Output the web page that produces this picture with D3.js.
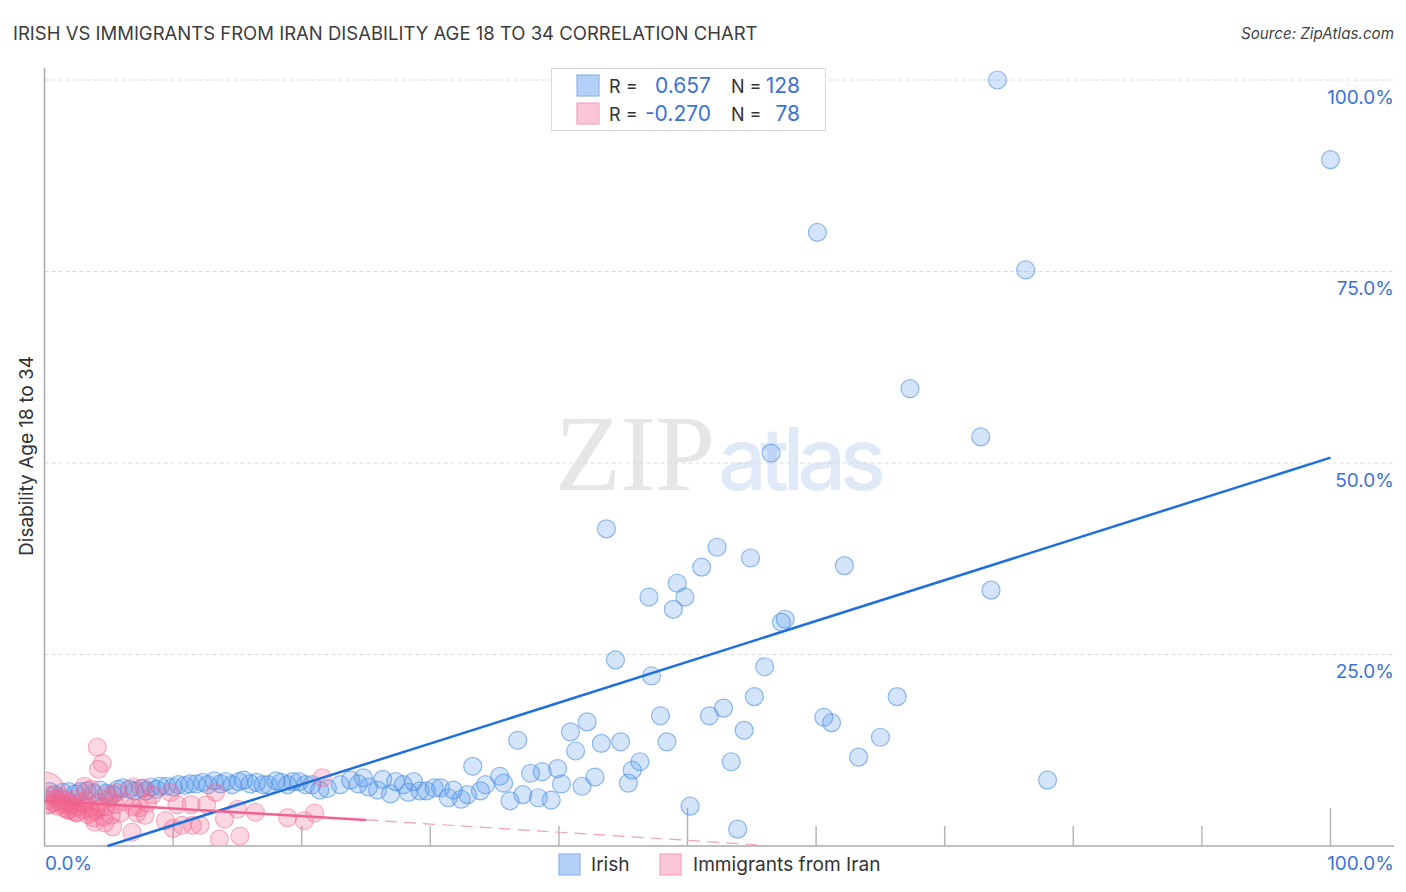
<!DOCTYPE html>
<html>
<head>
<meta charset="utf-8">
<script src="https://cdnjs.cloudflare.com/ajax/libs/d3/7.8.5/d3.min.js"></script>
<style>
body { margin: 0; background: #fff; }
text { font-family: Inter, "Open Sans", sans-serif; }
</style>
</head>
<body>
<script>
// values, in percent
var irishX = [74.1, 100, 60.1, 76.3, 67.3, 72.8, 56.5, 43.7, 52.3, 51.1, 54.9, 62.2, 49.2, 49.8, 47.0, 48.9, 73.6, 57.6, 57.3, 44.4,
    56.0, 47.2, 55.2, 66.3, 52.8, 47.9, 51.7, 60.6, 61.2, 42.2, 40.9, 54.4, 65.0, 36.8, 43.3, 44.8, 48.4, 41.3, 63.3, 53.4,
    46.3, 45.7, 33.3, 39.9, 38.7, 37.8, 42.8, 35.4, 45.4, 78.0, 40.2, 41.8, 35.7, 34.3, 50.2, 53.9, 36.2, 37.2, 38.4, 39.4,
    0.4, 0.8, 1.4, 1.9, 2.4, 2.8, 3.3, 3.8, 4.3, 4.8, 5.3, 5.7, 6.1, 6.6, 7.0, 7.5, 7.9, 8.3, 8.7, 9.0,
    9.5, 10.0, 10.4, 10.9, 11.3, 11.8, 12.3, 12.7, 13.2, 13.7, 14.1, 14.6, 15.1, 15.5, 16.0, 16.5, 17.0, 17.4, 18.0, 18.4,
    18.9, 19.3, 19.8, 20.3, 20.8, 21.4, 22.0, 23.0, 23.8, 24.4, 24.8, 25.2, 25.9, 26.3, 26.9, 27.3, 27.9, 28.3, 28.7, 29.2,
    29.7, 30.3, 30.8, 31.4, 31.8, 32.4, 32.9, 33.9];
var irishY = [100, 89.6, 80.1, 75.2, 59.7, 53.4, 51.3, 41.4, 39.0, 36.4, 37.6, 36.6, 34.3, 32.5, 32.5, 30.9, 33.4, 29.6, 29.2, 24.3,
    23.4, 22.2, 19.5, 19.5, 18.0, 17.0, 17.0, 16.8, 16.1, 16.2, 14.9, 15.1, 14.2, 13.8, 13.4, 13.6, 13.6, 12.4, 11.6, 11.0,
    11.0, 9.9, 10.4, 10.1, 9.7, 9.5, 9.0, 9.1, 8.2, 8.6, 8.1, 7.8, 8.2, 8.0, 5.2, 2.2, 5.9, 6.7, 6.3, 6.0,
    7.1, 6.7, 7.0, 7.1, 6.8, 7.1, 7.2, 6.9, 7.3, 6.9, 6.7, 7.4, 7.6, 7.4, 7.2, 7.5, 7.2, 7.7, 7.4, 7.8,
    7.8, 7.7, 8.0, 7.9, 8.1, 8.1, 8.3, 8.0, 8.5, 8.1, 8.4, 8.0, 8.4, 8.6, 8.1, 8.3, 8.0, 8.0, 8.5, 8.3,
    8.0, 8.4, 8.4, 8.0, 8.0, 7.3, 7.5, 8.0, 8.6, 8.1, 8.9, 7.7, 7.3, 8.7, 6.8, 8.4, 8.0, 7.0, 8.4, 7.2,
    7.2, 7.6, 7.6, 6.3, 7.3, 6.1, 6.7, 7.2];

var iranX = [0, 4.1, 4.5, 4.2, 3.1, 21.6, 9.8, 13.3, 8.4, 10.3, 11.4, 12.6, 9.4, 10.0, 10.7, 11.5, 12.1, 14.0, 15.0, 16.4,
    18.9, 20.2, 21.0, 13.6, 15.2, 6.8, 5.3, 4.7, 3.9, 7.8, 7.2, 5.9, 5.2, 4.6, 3.8, 6.9, 7.7, 5.6, 4.9, 6.9,
    5.5, 7.4, 4.8, 2.5, 1.8, 0.3, 0.4, 0.5, 0.7, 0.9, 1.0, 1.1, 1.3, 1.4, 1.5, 1.7, 1.8, 1.9, 2.0, 2.2,
    2.3, 2.5, 2.6, 2.8, 3.0, 3.1, 3.3, 3.5, 3.7, 5.0, 6.2, 4.2, 4.0, 4.4, 3.4, 2.2, 8.0, 3.6];
var iranY = [6.9, 12.9, 10.8, 10.0, 7.8, 8.9, 7.0, 7.0, 6.7, 5.4, 5.4, 5.4, 3.3, 2.3, 2.7, 2.7, 2.7, 3.5, 4.8, 4.4,
    3.7, 3.3, 4.3, 0.9, 1.3, 1.8, 2.5, 3.0, 3.1, 4.0, 4.3, 4.3, 4.0, 3.8, 3.7, 7.7, 7.6, 7.0, 6.7, 5.1,
    5.4, 5.0, 5.1, 4.3, 4.7, 6.0, 5.4, 6.6, 5.7, 6.2, 5.2, 5.8, 6.4, 5.5, 5.0, 6.0, 5.6, 4.7, 5.2, 6.1,
    5.5, 4.4, 5.1, 5.8, 4.7, 5.4, 6.0, 5.0, 4.4, 6.2, 5.8, 5.7, 4.6, 5.0, 4.1, 4.5, 5.6, 7.4];

// trend lines
var irishTrendX = [4.9, 100];
var irishTrendY = [0, 50.7];
var iranTrendX = [0, 25, 56];
var iranTrendY = [5.9, 3.4, 0.1];

var yTicks = [100, 75, 50, 25];
var xTicks = [10, 20, 30, 40, 50, 60, 70, 80, 90, 100];

var w = 1406;
var h = 892;
var blue = "#3b72d6";

var x = d3.scaleLinear().domain([0, 100]).range([44.5, 1330.5]);
var y = d3.scaleLinear().domain([0, 100]).range([846, 80]);

var svg = d3.select("body").append("svg")
    .attr("width", w)
    .attr("height", h)
    .style("display", "block");

svg.append("clipPath")
    .attr("id", "plot")
    .append("rect")
    .attr("x", 45.5)
    .attr("y", 60)
    .attr("width", 1340)
    .attr("height", 785);

svg.append("text")
    .text("IRISH VS IMMIGRANTS FROM IRAN DISABILITY AGE 18 TO 34 CORRELATION CHART")
    .attr("x", 13)
    .attr("y", 40)
    .attr("font-size", "18.5px")
    .attr("fill", "#3c3c3c");

svg.append("text")
    .text("Source: ZipAtlas.com")
    .attr("x", 1394)
    .attr("y", 39)
    .attr("text-anchor", "end")
    .attr("font-style", "italic")
    .attr("font-size", "15.2px")
    .attr("fill", "#444");

// watermark
svg.append("text")
    .text("ZIP")
    .attr("x", 555)
    .attr("y", 490)
    .attr("textLength", 160)
    .style("font-family", "'Liberation Serif', serif")
    .attr("font-size", "108px")
    .attr("fill", "#e6e6e6");
svg.append("text")
    .text("atlas")
    .attr("x", 718)
    .attr("y", 490)
    .attr("textLength", 168)
    .attr("font-size", "86px")
    .attr("font-weight", 500)
    .attr("fill", "#e0e9f8");

// gridlines
svg.selectAll(".grid")
    .data(yTicks)
    .enter()
    .append("line")
    .attr("class", "grid")
    .attr("x1", x(0))
    .attr("x2", 1394)
    .attr("y1", function(d) { return y(d); })
    .attr("y2", function(d) { return y(d); })
    .attr("stroke", "#dcdcdc")
    .attr("stroke-dasharray", "4,3");

// axes
svg.append("line")
    .attr("x1", x(0)).attr("x2", x(0))
    .attr("y1", 68).attr("y2", y(0))
    .attr("stroke", "#aaa").attr("stroke-width", 1.5);
svg.append("line")
    .attr("x1", x(0)).attr("x2", 1394)
    .attr("y1", y(0)).attr("y2", y(0))
    .attr("stroke", "#aaa").attr("stroke-width", 1.5);
svg.selectAll(".tick")
    .data(xTicks)
    .enter()
    .append("line")
    .attr("class", "tick")
    .attr("x1", function(d) { return x(d); })
    .attr("x2", function(d) { return x(d); })
    .attr("y1", function(d) { return d == 50 || d == 100 ? 808 : 826; })
    .attr("y2", y(0))
    .attr("stroke", "#b5b5b5")
    .attr("stroke-width", 1.5);

// points
var points = svg.append("g").attr("clip-path", "url(#plot)");
function drawPoints(name, xs, ys, fill, stroke, fillOpacity, strokeOpacity) {
    points.selectAll("." + name)
        .data(xs)
        .enter()
        .append("circle")
        .attr("class", name)
        .attr("cx", function(d) { return x(d); })
        .attr("cy", function(d, i) { return y(ys[i]); })
        .attr("r", function(d, i) { return name == "iran" && i == 0 ? 21 : 9; })
        .attr("fill", fill)
        .attr("fill-opacity", fillOpacity)
        .attr("stroke", stroke)
        .attr("stroke-opacity", strokeOpacity)
        .attr("stroke-width", 1.2);
}
drawPoints("irish", irishX, irishY, "#4d94ee", "#4d8fe0", 0.24, 0.6);
drawPoints("iran", iranX, iranY, "#f2608c", "#f0709a", 0.25, 0.5);

// trends
svg.append("line")
    .attr("x1", x(irishTrendX[0])).attr("y1", y(irishTrendY[0]))
    .attr("x2", x(irishTrendX[1])).attr("y2", y(irishTrendY[1]))
    .attr("stroke", "#1f6fdc")
    .attr("stroke-width", 2.5);
svg.append("line")
    .attr("x1", x(iranTrendX[0])).attr("y1", y(iranTrendY[0]))
    .attr("x2", x(iranTrendX[1])).attr("y2", y(iranTrendY[1]))
    .attr("stroke", "#f0628f")
    .attr("stroke-width", 2.5);
svg.append("line")
    .attr("x1", x(iranTrendX[1])).attr("y1", y(iranTrendY[1]))
    .attr("x2", x(iranTrendX[2])).attr("y2", y(iranTrendY[2]))
    .attr("stroke", "#f0a0b8")
    .attr("stroke-width", 1.2)
    .attr("stroke-dasharray", "12,7");

// tick labels
svg.selectAll(".ylab")
    .data(yTicks)
    .enter()
    .append("text")
    .attr("class", "ylab")
    .text(function(d) { return d.toFixed(1) + "%"; })
    .attr("x", 1394)
    .attr("y", function(d) { return y(d) + 23.5; })
    .attr("text-anchor", "end")
    .attr("font-size", "19px")
    .attr("fill", blue);
svg.append("text").text("0.0%")
    .attr("x", 45).attr("y", 870)
    .attr("font-size", "19px").attr("fill", blue);
svg.append("text").text("100.0%")
    .attr("x", 1394).attr("y", 870)
    .attr("text-anchor", "end")
    .attr("font-size", "19px").attr("fill", blue);

svg.append("text")
    .text("Disability Age 18 to 34")
    .attr("transform", "translate(33,456) rotate(-90)")
    .attr("text-anchor", "middle")
    .attr("font-size", "19px")
    .attr("fill", "#333");

// stats legend
svg.append("rect")
    .attr("x", 551.5).attr("y", 68.5)
    .attr("width", 274).attr("height", 62)
    .attr("fill", "#fff")
    .attr("stroke", "#d8d8d8");

var legendRows = [
    { r: "0.657", n: "128", fill: "#b3d1f8", stroke: "#8fb3e8", top: 75 },
    { r: "-0.270", n: "78", fill: "#fbc6d6", stroke: "#f3a5bd", top: 103 }
];
legendRows.forEach(function(row) {
    svg.append("rect")
        .attr("x", 577).attr("y", row.top)
        .attr("width", 22).attr("height", 21)
        .attr("fill", row.fill)
        .attr("stroke", row.stroke)
        .attr("stroke-width", 1.2);
    svg.append("text").text("R =")
        .attr("x", 609).attr("y", row.top + 18)
        .attr("font-size", "18px").attr("fill", "#333");
    svg.append("text").text(row.r)
        .attr("x", 711).attr("y", row.top + 18)
        .attr("text-anchor", "end")
        .attr("font-size", "21px").attr("fill", blue);
    svg.append("text").text("N =")
        .attr("x", 731).attr("y", row.top + 18)
        .attr("font-size", "18px").attr("fill", "#333");
    svg.append("text").text(row.n)
        .attr("x", 800).attr("y", row.top + 18)
        .attr("text-anchor", "end")
        .attr("font-size", "21px").attr("fill", blue);
});

// bottom legend
var bottomLegend = [
    { label: "Irish", fill: "#b3d1f8", stroke: "#8fb3e8", x: 559, tx: 591 },
    { label: "Immigrants from Iran", fill: "#fbc6d6", stroke: "#f3a5bd", x: 660, tx: 693 }
];
bottomLegend.forEach(function(item) {
    svg.append("rect")
        .attr("x", item.x).attr("y", 854)
        .attr("width", 21).attr("height", 21)
        .attr("fill", item.fill)
        .attr("stroke", item.stroke)
        .attr("stroke-width", 1.2);
    svg.append("text").text(item.label)
        .attr("x", item.tx).attr("y", 871)
        .attr("font-size", "19.1px").attr("fill", "#333");
});
</script>
</body>
</html>
